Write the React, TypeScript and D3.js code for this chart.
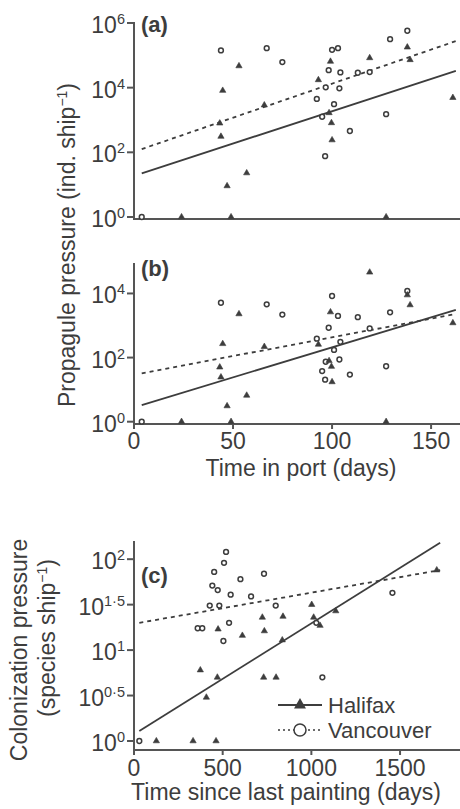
import React from "react";
import * as d3 from "d3";

// ---------- DATA (log10 values) ----------
// Panels (a) & (b): time in port (days)
const portDaysHalifax = [44.8, 53, 65.8, 43.3, 43.9, 56.9, 47, 24, 49, 127.3, 138, 139.4, 99.2, 161, 93.1, 98.5, 99.7, 100, 119];
const propaguleA_Halifax = [3.91, 4.67, 3.46, 2.9, 2.49, 1.36, 0.96, 0, 0, 0, 5.25, 4.86, 4.81, 3.69, 4.24, 3.22, 2.91, 2.38, 4.92];
const propaguleB_Halifax = [2.43, 3.36, 2.34, 1.7, 1.39, 0.82, 0.49, 0, 0, 0, 3.95, 3.64, 3.42, 3.08, 2.41, 1.9, 1.72, 1.24, 4.66];

const portDaysVancouver = [3.9, 43.9, 67, 74.9, 100, 103, 129.3, 138, 98.3, 104.2, 113, 119, 96.8, 103.7, 92.3, 101, 95, 127.3, 109, 96.5];
const propaguleA_Vancouver = [0, 5.15, 5.22, 4.79, 5.17, 5.22, 5.5, 5.76, 4.54, 4.47, 4.46, 4.48, 4.01, 3.98, 3.65, 3.49, 3.1, 3.18, 2.66, 1.88];
const propaguleB_Vancouver = [0, 3.71, 3.66, 3.34, 3.92, 3.3, 3.41, 4.08, 2.93, 2.49, 3.26, 2.91, 1.87, 1.94, 2.59, 2.24, 1.58, 1.73, 1.47, 1.31];

// Panel (c): time since last painting (days)
const paintDaysHalifax = [474, 611, 723.6, 735, 374, 470, 731, 801, 1002, 840, 1013, 1137.6, 1049, 836, 1707, 408, 126, 333, 462.5];
const colonizationHalifax = [1.23, 1.16, 1.36, 1.21, 0.78, 0.7, 0.7, 0.7, 1.5, 1.37, 1.36, 1.43, 1.27, 1.11, 1.88, 0.48, 0, 0, 0];
const paintDaysVancouver = [507.6, 441.6, 472, 545, 660, 427, 481, 799, 536, 359, 385, 504, 1028, 1457, 1062, 30, 519, 452, 600, 733];
const colonizationVancouver = [1.96, 1.71, 1.66, 1.61, 1.59, 1.49, 1.49, 1.49, 1.3, 1.24, 1.24, 1.1, 1.3, 1.63, 0.7, 0, 2.08, 1.86, 1.78, 1.84];

// Fitted trend lines: [x, log10 y] at both ends
const trendA_Halifax = [[3.9, 1.35], [162.5, 4.52]];
const trendA_Vancouver = [[3.9, 2.1], [162.5, 5.44]];
const trendB_Halifax = [[3.9, 0.52], [162.5, 3.49]];
const trendB_Vancouver = [[3.9, 1.51], [162.5, 3.36]];
const trendC_Halifax = [[30, 0.11], [1726, 2.18]];
const trendC_Vancouver = [[30, 1.3], [1726, 1.88]];

// Tick values (log10 exponents) and labels
const ticksA = [0, 2, 4, 6];
const ticksB = [0, 2, 4];
const ticksC = [0, 0.5, 1, 1.5, 2];
const ticksCLabels = ["0", "0·5", "1", "1·5", "2"];
const portTicks = [0, 50, 100, 150];
const paintTicks = [0, 500, 1000, 1500];

const seriesNames = ["Halifax", "Vancouver"];

// ---------- STYLE ----------
const FONT = "'Liberation Sans', Arial, Helvetica, sans-serif";
const INK = "#3d3d3d";
const AXIS = "#555555";
const AXIS_X = 134;
const TITLE = 23;
const LEGEND_FONT = 22;

type Sc = d3.ScaleLinear<number, number>;

function Markers({ xs, ys, x, y, kind }: { xs: number[]; ys: number[]; x: Sc; y: Sc; kind: "tri" | "circ" }) {
  const tri = d3.symbol().type(d3.symbolTriangle).size(17)() as string;
  return (
    <g>
      {xs.map((d, i) =>
        kind === "tri" ? (
          <path key={i} d={tri} transform={`translate(${x(d)},${y(ys[i])})`} fill={INK} stroke={INK} strokeWidth={0.6} />
        ) : (
          <circle key={i} cx={x(d)} cy={y(ys[i])} r={2.4} fill="white" stroke={INK} strokeWidth={1.5} />
        )
      )}
    </g>
  );
}

function Trend({ pts, x, y, dashed }: { pts: number[][]; x: Sc; y: Sc; dashed?: boolean }) {
  const line = d3.line<number[]>().x((p) => x(p[0])).y((p) => y(p[1]));
  return (
    <path d={line(pts) as string} fill="none" stroke={INK} strokeWidth={1.8} strokeDasharray={dashed ? "4,4" : undefined} />
  );
}

function YTicks({ y, ticks, labels }: { y: Sc; ticks: number[]; labels: string[] }) {
  return (
    <g>
      {ticks.map((t, i) => (
        <g key={i}>
          <line x1={AXIS_X - 7} x2={AXIS_X} y1={y(t)} y2={y(t)} stroke={AXIS} strokeWidth={2} />
          <text x={AXIS_X - 9} y={y(t) + 10} textAnchor="end" fontSize={23} fill={INK} fontFamily={FONT}>
            10
            <tspan fontSize={14.5} dy={-9}>{labels[i]}</tspan>
          </text>
        </g>
      ))}
    </g>
  );
}

function XTicks({ x, ticks, y0, labelY }: { x: Sc; ticks: number[]; y0: number; labelY: number }) {
  return (
    <g>
      {ticks.map((t, i) => (
        <g key={i}>
          <line x1={x(t)} x2={x(t)} y1={y0} y2={y0 + 5} stroke={AXIS} strokeWidth={2} />
          <text x={x(t)} y={labelY} textAnchor="middle" fontSize={23} fill={INK} fontFamily={FONT}>
            {t}
          </text>
        </g>
      ))}
    </g>
  );
}

function Frame({ x, y }: { x: Sc; y: Sc }) {
  const [yb, yt] = y.range();
  const [, xr] = x.range();
  return (
    <g>
      <line x1={AXIS_X} x2={AXIS_X} y1={yt} y2={yb} stroke={AXIS} strokeWidth={2} />
      <line x1={AXIS_X - 1} x2={xr} y1={yb} y2={yb} stroke={AXIS} strokeWidth={2} />
    </g>
  );
}

export default function App() {
  const xPort = d3.scaleLinear().domain([0, 164.6]).range([AXIS_X, 460]);
  const yA = d3.scaleLinear().domain([-0.062, 6.03]).range([219, 22]);
  const yB = d3.scaleLinear().domain([-0.072, 4.95]).range([424, 263]);
  const xPaint = d3.scaleLinear().domain([0, 1838]).range([AXIS_X, 460]);
  const yC = d3.scaleLinear().domain([-0.099, 2.2]).range([750, 541]);

  const tri = d3.symbol().type(d3.symbolTriangle).size(62)() as string;

  return (
    <svg width={460} height={809} style={{ position: "absolute", left: 0, top: 0, background: "white" }} fontFamily={FONT}>
      <rect width={460} height={809} fill="white" />

      {/* Panel (a) */}
      <Frame x={xPort} y={yA} />
      <YTicks y={yA} ticks={ticksA} labels={ticksA.map(String)} />
      <Trend pts={trendA_Vancouver} x={xPort} y={yA} dashed />
      <Trend pts={trendA_Halifax} x={xPort} y={yA} />
      <Markers xs={portDaysVancouver} ys={propaguleA_Vancouver} x={xPort} y={yA} kind="circ" />
      <Markers xs={portDaysHalifax} ys={propaguleA_Halifax} x={xPort} y={yA} kind="tri" />
      <text x={141} y={32} fontSize={22} fontWeight="bold" fill={INK}>(a)</text>

      {/* Panel (b) */}
      <Frame x={xPort} y={yB} />
      <YTicks y={yB} ticks={ticksB} labels={ticksB.map(String)} />
      <XTicks x={xPort} ticks={portTicks} y0={424} labelY={449} />
      <Trend pts={trendB_Vancouver} x={xPort} y={yB} dashed />
      <Trend pts={trendB_Halifax} x={xPort} y={yB} />
      <Markers xs={portDaysVancouver} ys={propaguleB_Vancouver} x={xPort} y={yB} kind="circ" />
      <Markers xs={portDaysHalifax} ys={propaguleB_Halifax} x={xPort} y={yB} kind="tri" />
      <text x={141} y={276} fontSize={22} fontWeight="bold" fill={INK}>(b)</text>
      <text x={301} y={476} textAnchor="middle" fontSize={TITLE} fill={INK}>Time in port (days)</text>

      <text transform="translate(75,245) rotate(-90)" textAnchor="middle" fontSize={TITLE} fill={INK}>
        Propagule pressure (ind. ship
        <tspan fontSize={14} dy={-8}>−1</tspan>
        <tspan dy={8}>)</tspan>
      </text>

      {/* Panel (c) */}
      <Frame x={xPaint} y={yC} />
      <YTicks y={yC} ticks={ticksC} labels={ticksCLabels} />
      <XTicks x={xPaint} ticks={paintTicks} y0={750} labelY={776} />
      <Trend pts={trendC_Vancouver} x={xPaint} y={yC} dashed />
      <Trend pts={trendC_Halifax} x={xPaint} y={yC} />
      <Markers xs={paintDaysVancouver} ys={colonizationVancouver} x={xPaint} y={yC} kind="circ" />
      <Markers xs={paintDaysHalifax} ys={colonizationHalifax} x={xPaint} y={yC} kind="tri" />
      <text x={141} y={583} fontSize={22} fontWeight="bold" fill={INK}>(c)</text>
      <text x={286} y={800} textAnchor="middle" fontSize={TITLE} fill={INK}>Time since last painting (days)</text>

      <text transform="translate(27,650) rotate(-90)" textAnchor="middle" fontSize={TITLE} fill={INK}>
        Colonization pressure
      </text>
      <text transform="translate(55,638) rotate(-90)" textAnchor="middle" fontSize={TITLE} fill={INK}>
        (species ship
        <tspan fontSize={14} dy={-8}>−1</tspan>
        <tspan dy={8}>)</tspan>
      </text>

      {/* Legend */}
      <g>
        <line x1={278} x2={322} y1={705} y2={705} stroke={INK} strokeWidth={1.8} />
        <path d={tri} transform="translate(300,705)" fill={INK} />
        <text x={328} y={712.5} fontSize={LEGEND_FONT} fill={INK}>{seriesNames[0]}</text>
        <line x1={278} x2={322} y1={730} y2={730} stroke={INK} strokeWidth={1.5} strokeDasharray="2,3" />
        <circle cx={300} cy={730} r={6} fill="white" stroke={INK} strokeWidth={1.5} />
        <text x={328} y={738} fontSize={LEGEND_FONT} fill={INK}>{seriesNames[1]}</text>
      </g>
    </svg>
  );
}
